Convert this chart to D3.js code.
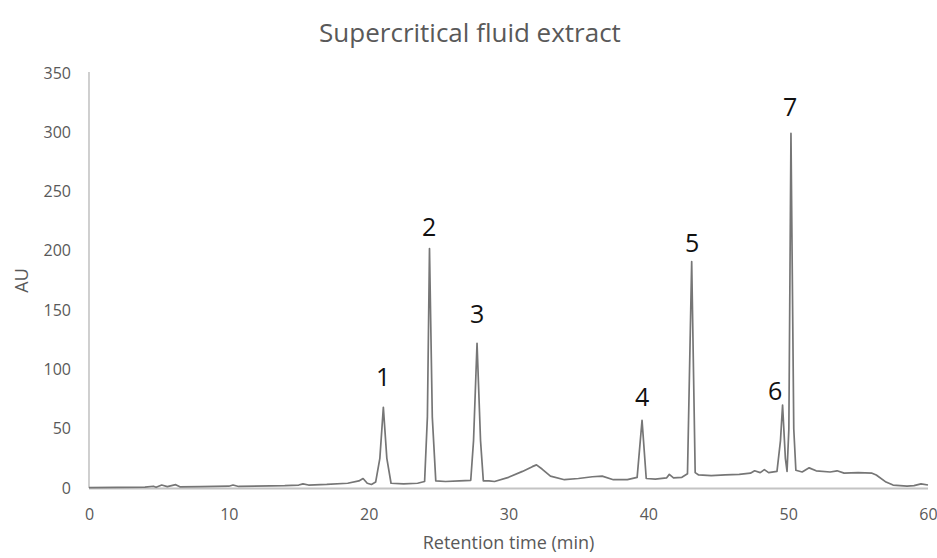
<!DOCTYPE html>
<html>
<head>
<meta charset="utf-8">
<script src="https://cdn.jsdelivr.net/npm/d3@7"></script>
<style>
  html, body { margin: 0; padding: 0; background: #fff; }
  svg { display: block; }
</style>
</head>
<body>
<svg id="chart" width="937" height="558"></svg>
<script>
// ---- data ----
const title = "Supercritical fluid extract";
const xLabel = "Retention time (min)";
const yLabel = "AU";
const xTicks = [0, 10, 20, 30, 40, 50, 60];
const yTicks = [0, 50, 100, 150, 200, 250, 300, 350];

// retention time (min)
const times = [
  0, 2, 4, 4.6, 4.8, 5.2, 5.6, 6.2, 6.5, 8, 10, 10.3, 10.7, 13, 14, 15, 15.3, 15.7, 17, 18.5,
  19.3, 19.6, 19.9, 20.2, 20.5, 20.8, 21.05, 21.3, 21.6, 22.5, 23.5, 24.0, 24.2, 24.35, 24.55, 24.8,
  25.5, 26.5, 27.3, 27.5, 27.75, 28.0, 28.2, 28.6, 29, 30, 31, 31.7, 32, 32.4, 33, 34, 35, 36,
  36.7, 37.5, 38.5, 39.2, 39.55, 39.85, 40.5, 41.3, 41.5, 41.8, 42.4, 42.8, 43.1, 43.35, 43.6,
  44.5, 45.5, 46.5, 47.3, 47.6, 48, 48.3, 48.6, 49.2, 49.45, 49.6, 49.8, 49.92, 50.05, 50.2,
  50.4, 50.55, 51, 51.5, 52, 53, 53.5, 54, 55, 56, 56.3, 57, 57.5, 58.5, 59, 59.5, 60
];
// absorbance (AU)
const absorb = [
  0.3, 0.5, 0.8, 1.5, 0.6, 2.5, 1.2, 2.8, 1.0, 1.2, 1.5, 2.5, 1.3, 1.8, 2.0, 2.5, 3.5, 2.5, 3.0, 4.0,
  6.0, 8.0, 4.0, 3.0, 5.0, 25, 68, 25, 4.0, 3.5, 4.0, 5.5, 60, 202, 60, 6.0,
  5.5, 6.0, 6.5, 40, 122, 40, 6.0, 6.0, 5.5, 9.0, 14, 18, 19.5, 16, 10, 7.0, 8.0, 9.5,
  10, 7.0, 7.0, 9.0, 57, 8.0, 7.5, 8.5, 11.5, 8.5, 9.0, 12, 191, 13, 11,
  10.5, 11, 11.5, 12.5, 14.5, 13, 15.5, 13, 14, 40, 70, 25, 14, 50, 299,
  50, 15, 13.5, 17, 14.5, 13.5, 14.5, 12.5, 13, 12.5, 11, 5, 2.5, 1.5, 2.0, 3.5, 2.5
];

// peak annotations
const peakLabels = ["1", "2", "3", "4", "5", "6", "7"];
const peakLabelTimes = [21.03, 24.32, 27.75, 39.56, 43.13, 49.07, 50.14];
const peakLabelLevels = [93.6, 220.5, 146.7, 76.8, 206.6, 82.2, 321.3];

// ---- drawing ----
const svg = d3.select("#chart");
const W = 937;

const x = d3.scaleLinear().domain([0, 60]).range([89, 928]);
const y = d3.scaleLinear().domain([0, 350]).range([488, 73]);

const textColor = "#595959";
const font = "'Open Sans', 'Noto Sans', sans-serif";

// title
svg.append("text")
  .attr("x", 470).attr("y", 42)
  .attr("text-anchor", "middle")
  .attr("font-family", font)
  .attr("font-size", 26)
  .attr("fill", textColor)
  .text(title);

// y axis line
svg.append("line")
  .attr("x1", x(0)).attr("x2", x(0))
  .attr("y1", y(350) - 1).attr("y2", y(0))
  .attr("stroke", "#b0b0b0").attr("stroke-width", 1.2);

// x axis line
svg.append("line")
  .attr("x1", x(0)).attr("x2", x(60))
  .attr("y1", y(0) + 0.5).attr("y2", y(0) + 0.5)
  .attr("stroke", "#c4c4c4").attr("stroke-width", 2);

// y tick labels
const yAxis = d3.axisLeft(y).tickValues(yTicks).tickSize(0).tickPadding(18);
const gy = svg.append("g").attr("transform", `translate(${x(0)},0)`).call(yAxis);
gy.select(".domain").remove();
gy.selectAll("text")
  .attr("font-family", font).attr("font-size", 16).attr("fill", textColor);

// x tick labels
const xAxis = d3.axisBottom(x).tickValues(xTicks).tickSize(0).tickPadding(21);
const gx = svg.append("g").attr("transform", `translate(0,${y(0)})`).call(xAxis);
gx.select(".domain").remove();
gx.selectAll("text")
  .attr("font-family", font).attr("font-size", 16).attr("fill", textColor);

// axis titles
svg.append("text")
  .attr("x", x(30)).attr("y", 549)
  .attr("text-anchor", "middle")
  .attr("font-family", font).attr("font-size", 18)
  .attr("fill", textColor)
  .text(xLabel);

svg.append("text")
  .attr("transform", `translate(28,${(y(0) + y(350)) / 2}) rotate(-90)`)
  .attr("text-anchor", "middle")
  .attr("font-family", font).attr("font-size", 18)
  .attr("fill", textColor)
  .text(yLabel);

// chromatogram
const pts = times.map((t, i) => [t, absorb[i]]);
const line = d3.line().x(d => x(d[0])).y(d => y(d[1]));
svg.append("path")
  .datum(pts)
  .attr("d", line)
  .attr("fill", "none")
  .attr("stroke", "#767676")
  .attr("stroke-width", 1.7)
  .attr("stroke-linejoin", "round");

// peak labels
svg.selectAll(".peak")
  .data(peakLabels)
  .enter().append("text")
  .attr("class", "peak")
  .attr("x", (d, i) => x(peakLabelTimes[i]))
  .attr("y", (d, i) => y(peakLabelLevels[i]))
  .attr("dy", "0.36em")
  .attr("text-anchor", "middle")
  .attr("font-family", font).attr("font-size", 25)
  .attr("fill", "#111")
  .text(d => d);
</script>
</body>
</html>
